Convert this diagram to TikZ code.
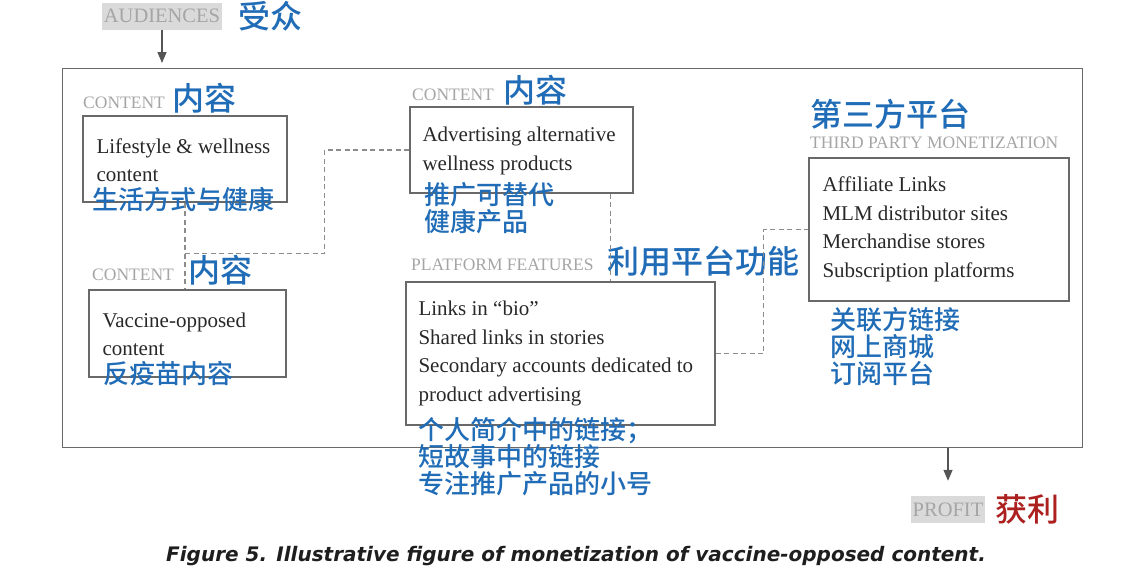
\documentclass[tikz,border=0pt]{standalone}
\usepackage{fontspec}
\setmainfont{Liberation Serif}
\newfontfamily\cjk{Noto Sans CJK SC Medium}
\newfontfamily\capfont{DejaVu Sans}
\usetikzlibrary{arrows.meta,calc}
\definecolor{cnblue}{RGB}{32,108,182}
\definecolor{cnred}{RGB}{172,32,32}
\definecolor{taggray}{RGB}{165,165,165}
\definecolor{tagbg}{RGB}{218,218,218}
\definecolor{boxgray}{RGB}{105,105,105}
\definecolor{textgray}{RGB}{40,40,40}
\definecolor{linkgray}{RGB}{140,140,140}
\definecolor{arrowgray}{RGB}{85,85,85}
\definecolor{capgray}{RGB}{30,30,30}

\begin{document}
\begin{tikzpicture}[x=1pt,y=-1pt,
  box/.style={draw=boxgray,line width=1.3pt,inner sep=0pt},
  body/.style={anchor=west,align=left,inner sep=0pt,text=textgray,font=\fontsize{21}{28.5}\selectfont},
  tag/.style={anchor=west,inner sep=0pt,text=taggray,font=\fontsize{17.5}{20}\selectfont},
  gloss/.style={anchor=north west,align=left,inner sep=0pt,text=cnblue,font=\cjk\fontsize{26}{27}\selectfont},
  head/.style={anchor=west,inner sep=0pt,text=cnblue,font=\cjk\fontsize{32}{32}\selectfont},
  ends/.style={fill=tagbg,text=taggray,inner xsep=2pt,inner ysep=0pt,minimum height=27pt,font=\fontsize{20.5}{20}\selectfont},
  link/.style={draw=linkgray,line width=1.1pt,dash pattern=on 5pt off 3.5pt},
  flow/.style={draw=arrowgray,line width=1.3pt,-{Triangle[width=9pt,length=11pt]}}]
\useasboundingbox (0,0) rectangle (1140,570);
\node[box,minimum width=1020pt,minimum height=379pt,anchor=north west] (outer) at (62,68) {};

\node[ends] (aud) at (162,16) {AUDIENCES};
\node[head] at (238,16) {受众};
\draw[flow,shorten >=5pt] (aud.south) -- (aud.south |- outer.north);

\node[tag] at (83,103) {CONTENT};
\node[head] at (172,98) {内容};
\node[box,minimum width=204pt,minimum height=86pt] (life) at (185,159) {};
\node[body] at ($(life.west)+(14,1)$) {Lifestyle \& wellness\\content};
\node[gloss] at (92,187) {生活方式与健康};

\node[tag] at (412,95) {CONTENT};
\node[head] at (503,90) {内容};
\node[box,minimum width=223pt,minimum height=86pt] (adv) at (521.5,150) {};
\node[body] at ($(adv.west)+(13,1)$) {Advertising alternative\\wellness products};
\node[gloss] at (424,182) {推广可替代\\健康产品};

\node[tag] at (92,275) {CONTENT};
\node[head] at (188,270) {内容};
\node[box,minimum width=197pt,minimum height=87pt] (vac) at (187.5,333.5) {};
\node[body] at ($(vac.west)+(14,1)$) {Vaccine-opposed\\content};
\node[gloss] at (103,361) {反疫苗内容};

\node[tag] at (411,265) {PLATFORM FEATURES};
\node[head] at (607,261.5) {利用平台功能};
\node[box,minimum width=309pt,minimum height=143pt] (feat) at (560.5,353.5) {};
\node[body] at ($(feat.west)+(13,0)$) {Links in ``bio''\\Shared links in stories\\Secondary accounts dedicated to\\product advertising};
\node[gloss] at (418,417) {个人简介中的链接；\\短故事中的链接\\专注推广产品的小号};

\node[head] at (810,114) {第三方平台};
\node[tag] at (810,143) {THIRD PARTY MONETIZATION};
\node[box,minimum width=260pt,minimum height=143pt] (third) at (939,229.5) {};
\node[body] at ($(third.west)+(14,0)$) {Affiliate Links\\MLM distributor sites\\Merchandise stores\\Subscription platforms};
\node[gloss] at (830,307) {关联方链接\\网上商城\\订阅平台};

\node[ends] (profit) at (948,509.5) {PROFIT};
\node[head,text=cnred] at (995,509) {获利};
\draw[flow,shorten >=15pt] (profit.north |- outer.south) -- (profit.north);

\path (life.south) ++(0,51) coordinate (fork);
\draw[link] (life.south) -- (life.south |- vac.north);
\draw[link] (fork) -| ($(adv.west)+(-85,0)$) -- (adv.west);
\path (adv.south east) ++(-23,0) coordinate (drop);
\draw[link] (drop) -- (drop |- feat.north);
\draw[link] (feat.east) -- ++(48,0) |- (third.west);

\node[text=capgray,font=\capfont\bfseries\itshape\fontsize{20}{22}\selectfont] (caption) at (576,556) {Figure 5. Illustrative figure of monetization of vaccine-opposed content.};
\end{tikzpicture}
\end{document}
